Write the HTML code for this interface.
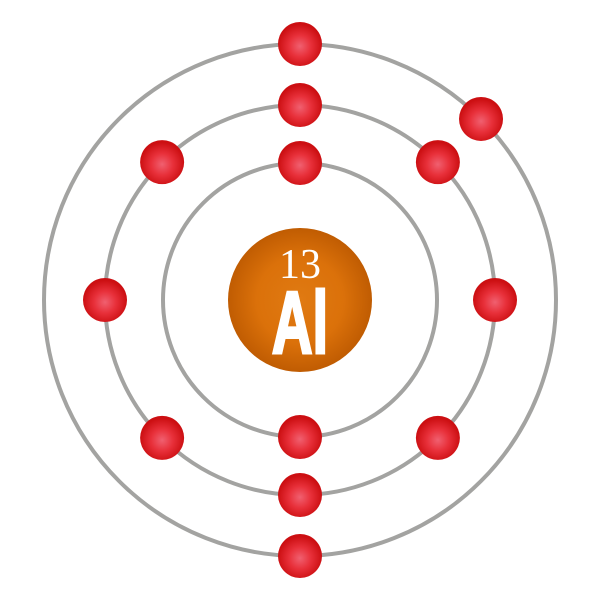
<!DOCTYPE html>
<html><head><meta charset="utf-8"><style>html,body{margin:0;padding:0;background:#fff}svg{display:block}</style></head>
<body>
<svg width="600" height="600" viewBox="0 0 600 600">
<defs>
<radialGradient id="eg" cx="0.5" cy="0.55" r="0.5">
<stop offset="0" stop-color="#f06070"/><stop offset="0.5" stop-color="#e8303a"/><stop offset="1" stop-color="#cc0f12"/>
</radialGradient>
<radialGradient id="ng" cx="0.5" cy="0.5" r="0.5">
<stop offset="0" stop-color="#e07a12"/><stop offset="0.6" stop-color="#db710a"/><stop offset="1" stop-color="#c05c02"/>
</radialGradient>
</defs>
<g id="orbits" fill="none" stroke="#a3a3a1" stroke-width="4">
<circle cx="300" cy="300" r="137"/>
<circle cx="300" cy="300" r="195"/>
<circle cx="300" cy="300" r="256"/>
</g>
<circle cx="300" cy="300" r="72" fill="url(#ng)"/>
<text x="300" y="278" text-anchor="middle" font-family="Liberation Serif, serif" font-size="42" fill="#fff">13</text>
<text x="0" y="353" text-anchor="middle" font-family="Liberation Sans, sans-serif" font-weight="bold" font-size="88" fill="#fff" stroke="#fff" stroke-width="3" transform="translate(300,0) scale(0.64,1)">Al</text>
<g id="electrons"></g>
</svg>
<script>
const shellRadii = [137, 195, 256];
const shellAngles = [[0, 180], [0, 45, 90, 135, 180, 225, 270, 315], [0, 45, 180]];
const g = document.getElementById('electrons');
shellAngles.forEach((angles, si) => {
  angles.forEach(a => {
    const rad = a * Math.PI / 180;
    const c = document.createElementNS('http://www.w3.org/2000/svg', 'circle');
    c.setAttribute('cx', 300 + shellRadii[si] * Math.sin(rad));
    c.setAttribute('cy', 300 - shellRadii[si] * Math.cos(rad));
    c.setAttribute('r', 22);
    c.setAttribute('fill', 'url(#eg)');
    
    
    g.appendChild(c);
  });
});
</script>
</body></html>
